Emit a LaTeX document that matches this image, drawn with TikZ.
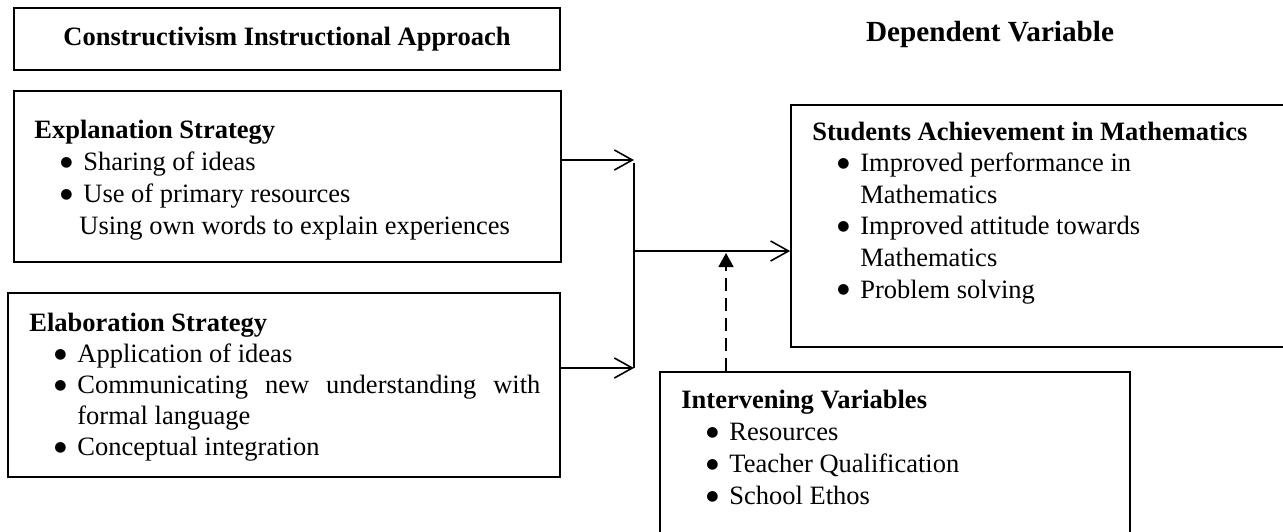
\documentclass[tikz,border=0pt]{standalone}
\usepackage{fontspec}
\setmainfont{Liberation Serif}
\newfontfamily\dejavu{DejaVu Sans}
\usetikzlibrary{arrows.meta}
\newcommand\bul{\makebox[11.5pt][l]{\raisebox{2.1pt}{\dejavu\fontsize{7}{7}\selectfont ●}}}
\newcommand\ind{\hspace*{12.5pt}}
\begin{document}
\begin{tikzpicture}[x=0.5pt,y=-0.5pt,
  box/.style={draw,line width=0.8pt,inner sep=0pt,rectangle},
  txt/.style={anchor=base west,inner sep=0pt,font=\fontsize{13.25}{16}\selectfont},
  arr/.style={line width=0.8pt,-{Straight Barb[length=9pt,width=10pt,line width=0.8pt]}},
  plain/.style={line width=0.8pt},
  dasharr/.style={line width=0.8pt,dash pattern=on 6.5pt off 3.5pt,-{Triangle[length=7pt,width=7.5pt]}}]
\useasboundingbox (0,0) rectangle (1283,531);
\clip (0,0) rectangle (1283,531);

% boxes
\node[box,minimum width=273pt,minimum height=31pt] (cia) at (287,39) {};
\node[box,minimum width=273.5pt,minimum height=85.5pt] (expl) at (287.5,176.5) {};
\node[box,minimum width=276pt,minimum height=92pt] (elab) at (284,385) {};
\node[box,minimum width=252pt,minimum height=121pt] (stud) at (1043,226) {};
\node[box,minimum width=235pt,minimum height=84pt] (interv) at (895,456) {};

% titles
\node[anchor=base,inner sep=0pt,font=\fontsize{13.25}{16}\selectfont\bfseries] (ciat) at (287,45) {Constructivism Instructional Approach};
\node[anchor=base,inner sep=0pt,font=\fontsize{14.6}{17}\selectfont\bfseries] (dvt) at (990,41) {Dependent Variable};

% box texts
\node[txt] (explt) at (34,138) {\parbox[t]{270pt}{\raggedright\fontsize{13.25}{16.15}\selectfont
\textbf{Explanation Strategy}\\
\hspace*{13pt}\bul Sharing of ideas\\
\hspace*{13pt}\bul Use of primary resources\\
\hspace*{22.5pt}Using own words to explain experiences}};

\node[txt] (elabt) at (29,331) {\parbox[t]{270pt}{\raggedright\fontsize{13.25}{15.62}\selectfont
\textbf{Elaboration Strategy}\\
\ind\bul Application of ideas\\
\ind\bul\hbox to 231.5pt{Communicating\hfill new\hfill understanding\hfill with}\\
\ind\hspace*{11.5pt}formal language\\
\ind\bul Conceptual integration}};

\node[txt] (studt) at (812,140) {\parbox[t]{240pt}{\raggedright\fontsize{13.25}{15.8}\selectfont
\textbf{Students Achievement in Mathematics}\\
\ind\bul Improved performance in\\
\ind\hspace*{11.5pt}Mathematics\\
\ind\bul Improved attitude towards\\
\ind\hspace*{11.5pt}Mathematics\\
\ind\bul Problem solving}};

\node[txt] (intervt) at (681,408) {\parbox[t]{220pt}{\raggedright\fontsize{13.25}{16.15}\selectfont
\textbf{Intervening Variables}\\
\ind\bul Resources\\
\ind\bul Teacher Qualification\\
\ind\bul School Ethos}};

% connectors
\coordinate (bt) at (634,160);
\coordinate (bb) at (634,368);
\coordinate (bm) at (634,251);
\coordinate (dtip) at (726,253);
\draw[plain] (634,163) coordinate (btop) -- (bb);
\draw[arr] (bt -| expl.east) -- (bt);
\draw[arr] (bb -| elab.east) -- (bb);
\draw[arr] (bm) -- (bm -| stud.west);
\draw[dasharr] (dtip |- interv.north) -- (dtip);
\end{tikzpicture}
\end{document}
